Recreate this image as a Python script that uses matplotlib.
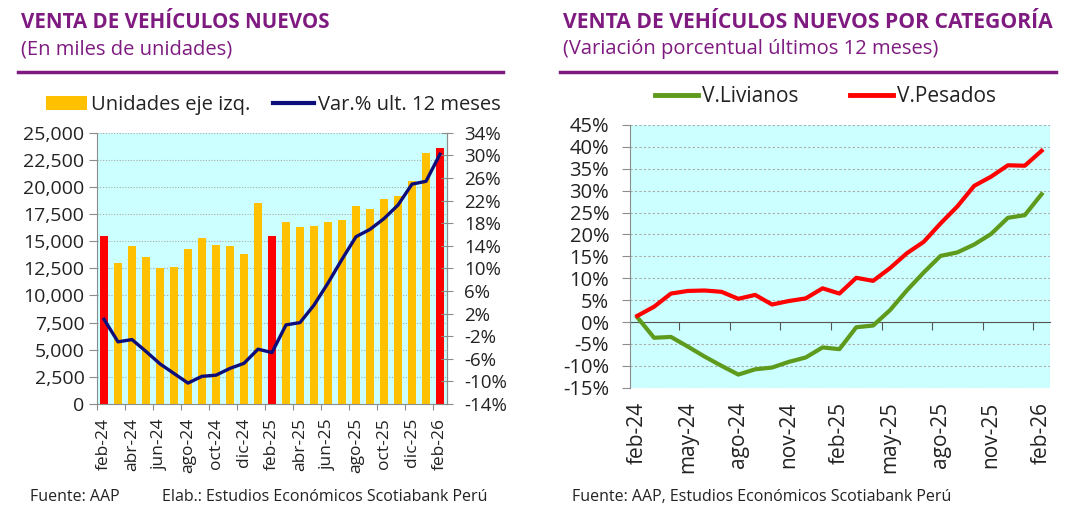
import matplotlib
matplotlib.use("Agg")
import matplotlib.pyplot as plt
from matplotlib.patches import Patch
from matplotlib.lines import Line2D
from matplotlib.ticker import FuncFormatter, FixedLocator
import numpy as np

plt.rcParams['font.family'] = ['Open Sans', 'DejaVu Sans']

months = ["feb-24", "mar-24", "abr-24", "may-24", "jun-24", "jul-24", "ago-24", "sep-24",
          "oct-24", "nov-24", "dic-24", "ene-25", "feb-25", "mar-25", "abr-25", "may-25",
          "jun-25", "jul-25", "ago-25", "sep-25", "oct-25", "nov-25", "dic-25", "ene-26", "feb-26"]

unidades = [15450, 12960, 14590, 13570, 12500, 12620, 14280, 15290, 14620, 14530, 13820,
            18550, 15450, 16770, 16340, 16370, 16770, 16980, 18240, 18000, 18920, 19200,
            20550, 23130, 23560]
var_12m = [1.0, -3.0, -2.6, -4.7, -6.9, -8.6, -10.3, -9.1, -8.9, -7.7, -6.8, -4.3, -4.9,
           0.0, 0.4, 3.5, 7.4, 11.6, 15.6, 16.9, 18.8, 21.2, 24.9, 25.4, 30.2]
highlight = ["feb-24", "feb-25", "feb-26"]

livianos = [1.1, -3.6, -3.4, -5.6, -7.9, -10.0, -12.0, -10.8, -10.4, -9.1, -8.1, -5.8, -6.2,
            -1.2, -0.8, 2.7, 7.2, 11.3, 15.1, 15.9, 17.7, 20.1, 23.8, 24.4, 29.2]
pesados = [1.4, 3.5, 6.5, 7.1, 7.2, 6.9, 5.3, 6.2, 4.0, 4.8, 5.4, 7.7, 6.5, 10.1, 9.4, 12.3,
           15.7, 18.3, 22.5, 26.4, 31.1, 33.2, 35.8, 35.7, 39.1]

PURPLE = "#7E1A80"
CYAN = "#CCFFFF"
YELLOW = "#FFC000"
RED = "#FF0000"
NAVY = "#0C0C7A"
GREEN = "#5E9A1C"
TXT = "#222222"
GRID = "#AAAAAA"
SPINE = "#8C8C8C"

fig = plt.figure(figsize=(10.9, 5.17), dpi=100)

# ---------- Titles ----------
def header(x0, x1, title, sub, tsize):
    fig.text(x0 / 1090, 1 - 23 / 517, title, fontsize=tsize, fontweight='bold', color=PURPLE,
             va='center', ha='left')
    fig.text(x0 / 1090, 1 - 49 / 517, sub, fontsize=14.5, color=PURPLE, va='center', ha='left')
    fig.add_artist(Line2D([x0 / 1090 - 0.003, x1 / 1090], [1 - 72 / 517, 1 - 72 / 517],
                          color=PURPLE, lw=2.5, transform=fig.transFigure))

header(21, 503, "VENTA DE VEHÍCULOS NUEVOS", "(En miles de unidades)", 14.8)
header(563, 1056, "VENTA DE VEHÍCULOS NUEVOS POR CATEGORÍA",
       "(Variación porcentual últimos 12 meses)", 15.2)

# ---------- Left chart ----------
x = np.arange(len(months))
ax1 = fig.add_axes([97 / 1090, 1 - 404 / 517, 350 / 1090, (404 - 132.7) / 517])
ax1.set_facecolor(CYAN)
colors = [RED if m in highlight else YELLOW for m in months]
ax1.bar(x, unidades, width=0.55, color=colors, zorder=2)
ax1.set_xlim(-0.5, len(months) - 0.5)
ax1.set_ylim(0, 25000)
ax1.set_yticks(np.arange(0, 25001, 2500))
ax1.yaxis.set_major_formatter(FuncFormatter(lambda v, p: f"{int(v):,}"))
ax1.grid(axis='y', color=GRID, linestyle=(0, (1, 1.5)), lw=0.8, zorder=0)
ax1.xaxis.set_major_locator(FixedLocator(np.arange(-0.5, len(months) - 1, 2)))
ax1.xaxis.set_minor_locator(FixedLocator(x[::2]))
ax1.set_xticklabels([], minor=False)
ax1.set_xticklabels(months[::2], minor=True, rotation=90)
ax1.tick_params(axis='x', which='major', length=4, color=SPINE, direction='out')
ax1.tick_params(axis='x', which='minor', length=0, labelsize=12.5, labelcolor=TXT, pad=10)
ax1.tick_params(axis='y', length=6, color=SPINE, labelsize=14, labelcolor=TXT, pad=3)
ax1.spines['top'].set_visible(False)
for s in ['left', 'bottom', 'right']:
    ax1.spines[s].set_color(SPINE)

ax1b = ax1.twinx()
ax1b.plot(x, var_12m, color=NAVY, lw=2.4, zorder=3, solid_joinstyle='round')
ax1b.set_ylim(-14, 34)
ax1b.set_yticks(np.arange(-14, 35, 4))
ax1b.yaxis.set_major_formatter(FuncFormatter(lambda v, p: f"{int(v)}%"))
ax1b.tick_params(axis='y', length=9, direction='inout', color=SPINE, labelsize=13.5,
                 labelcolor=TXT, pad=8)
ax1b.spines['top'].set_visible(False)
ax1b.spines['right'].set_color(SPINE)
ax1b.spines['left'].set_visible(False)
ax1b.spines['bottom'].set_visible(False)

h1 = [Patch(facecolor=YELLOW, edgecolor='none'), Line2D([], [], color=NAVY, lw=3)]
fig.legend(h1, ["Unidades eje izq.", "Var.% ult. 12 meses"], loc='center left',
           bbox_to_anchor=(46 / 1090, 1 - 105 / 517), ncol=2, frameon=False, fontsize=14.5,
           borderaxespad=0, borderpad=0,
           handlelength=2.05, handleheight=0.65, handletextpad=0.2, columnspacing=1.1,
           labelcolor=TXT)

fig.text(30 / 1090, 1 - 497 / 517, "Fuente: AAP", fontsize=11.5, color=TXT, va='center')
fig.text(162 / 1090, 1 - 497 / 517, "Elab.: Estudios Económicos Scotiabank Perú",
         fontsize=11.5, color=TXT, va='center')

# ---------- Right chart ----------
ax2 = fig.add_axes([630 / 1090, 1 - 387.7 / 517, 420 / 1090, (387.7 - 125) / 517])
ax2.set_facecolor(CYAN)
ax2.plot(x, livianos, color=GREEN, lw=3.0, zorder=3, solid_joinstyle='round')
ax2.plot(x, pesados, color=RED, lw=3.0, zorder=3, solid_joinstyle='round')
ax2.set_xlim(-0.43, len(months) - 0.5)
ax2.set_ylim(-15, 45)
ax2.set_yticks(np.arange(-15, 46, 5))
ax2.yaxis.set_major_formatter(FuncFormatter(lambda v, p: f"{int(v)}%"))
ax2.grid(axis='y', color=GRID, linestyle=(0, (2, 2)), lw=0.8, zorder=0)
ax2.spines['top'].set_visible(False)
ax2.spines['right'].set_visible(False)
ax2.spines['left'].set_color(SPINE)
ax2.spines['bottom'].set_position(('data', 0))
ax2.spines['bottom'].set_color("#555555")
ax2.spines['bottom'].set_zorder(2)
ax2.xaxis.set_major_locator(FixedLocator(np.arange(2.5, len(months), 3)))
ax2.tick_params(axis='x', length=6, color="#555555", direction='out', labelbottom=False)
ax2.tick_params(axis='y', length=6, color=SPINE, labelsize=14.5, labelcolor=TXT, pad=9)

sec = ax2.secondary_xaxis(0.0)
sec.set_xticks(x[::3])
sec.set_xticklabels(months[::3], rotation=90)
sec.tick_params(length=0, labelsize=15, labelcolor=TXT, pad=10)
sec.spines['bottom'].set_visible(False)

h2 = [Line2D([], [], color=GREEN, lw=3.5), Line2D([], [], color=RED, lw=3.5)]
fig.legend(h2, ["V.Livianos", "V.Pesados"], loc='center left',
           bbox_to_anchor=(655 / 1090, 1 - 97 / 517), ncol=2, frameon=False, fontsize=15,
           borderaxespad=0, borderpad=0,
           handlelength=2.07, handletextpad=0.2, columnspacing=2.45, labelcolor=TXT)

fig.text(572 / 1090, 1 - 497 / 517, "Fuente: AAP, Estudios Económicos Scotiabank Perú",
         fontsize=11.5, color=TXT, va='center')

fig.savefig("out.png", dpi=100)
